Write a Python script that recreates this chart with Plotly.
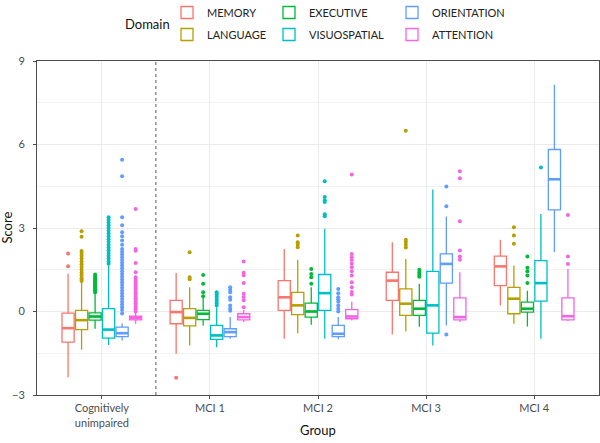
import plotly.graph_objects as go

GROUPS = ["Cognitively<br>unimpaired", "MCI 1", "MCI 2", "MCI 3", "MCI 4"]
DOMAINS = ["MEMORY", "LANGUAGE", "EXECUTIVE", "VISUOSPATIAL", "ORIENTATION", "ATTENTION"]
COLORS = ["#F8766D", "#B79F00", "#00BA38", "#00BFC4", "#619CFF", "#F564E3"]

# box statistics: one row per domain, one value per group
LOWER = [
    [-2.36, -1.52, -0.98, -0.83, 0.22],
    [-1.37, -1.22, -0.78, -0.72, -0.44],
    [-0.62, -0.50, -0.48, -0.55, -0.54],
    [-1.20, -1.28, -0.98, -1.22, -0.98],
    [-1.04, -0.98, -1.00, -0.50, 2.13],
    [-0.44, -0.38, -0.32, -0.38, -0.34],
]
Q1 = [
    [-1.10, -0.44, 0.04, 0.40, 0.93],
    [-0.65, -0.52, -0.11, -0.14, -0.08],
    [-0.31, -0.29, -0.20, -0.14, -0.02],
    [-0.96, -1.00, 0.04, -0.78, 0.37],
    [-0.90, -0.90, -0.90, 1.02, 3.65],
    [-0.30, -0.30, -0.26, -0.30, -0.30],
]
MEDIAN = [
    [-0.60, -0.02, 0.51, 1.11, 1.62],
    [-0.31, -0.23, 0.22, 0.28, 0.46],
    [-0.18, -0.08, 0.00, 0.10, 0.10],
    [-0.65, -0.86, 0.66, 0.22, 1.02],
    [-0.78, -0.74, -0.80, 1.71, 4.75],
    [-0.24, -0.20, -0.18, -0.20, -0.17],
]
Q3 = [
    [-0.06, 0.40, 1.11, 1.41, 1.99],
    [0.04, 0.10, 0.69, 0.81, 0.87],
    [-0.05, 0.04, 0.30, 0.40, 0.34],
    [0.10, -0.50, 1.33, 1.44, 1.83],
    [-0.56, -0.62, -0.50, 2.07, 5.82],
    [-0.17, -0.08, 0.07, 0.49, 0.49],
]
UPPER = [
    [1.36, 1.38, 2.25, 2.49, 2.58],
    [1.05, 0.87, 1.86, 1.89, 1.65],
    [0.62, 0.51, 0.87, 1.00, 0.75],
    [1.65, 0.15, 2.97, 4.38, 3.50],
    [-0.43, -0.20, -0.20, 3.41, 8.15],
    [-0.05, 0.05, 0.35, 1.41, 1.53],
]

# outliers: one list per group
OUT_MEMORY = [[1.63, 2.08], [-2.38], [], [], []]
OUT_LANGUAGE = [
    [1.1, 1.15, 1.2, 1.3, 1.4, 1.5, 1.6, 1.7, 1.8, 1.9, 2.0, 2.1, 2.17, 2.69, 2.88],
    [1.16, 1.23, 2.13],
    [2.31, 2.4, 2.49, 2.73],
    [2.3, 2.4, 2.5, 2.58, 6.49],
    [2.43, 2.73, 3.03],
]
OUT_EXECUTIVE = [
    [0.68, 0.75, 0.8, 0.85, 0.9, 0.95, 1.0, 1.05, 1.1, 1.15, 1.2, 1.25, 1.33],
    [0.55, 0.69, 1.0, 1.31],
    [1.0, 1.23, 1.35, 1.53],
    [1.25, 1.32, 1.4, 1.5],
    [1.02, 1.29, 1.45, 1.57, 1.98],
]
OUT_VISUOSPATIAL = [
    [1.72, 1.8, 1.9, 2.0, 2.1, 2.2, 2.3, 2.4, 2.5, 2.6, 2.7, 2.8, 2.9, 3.0, 3.1, 3.2, 3.3, 3.39],
    [0.22, 0.3, 0.38, 0.46, 0.54, 0.62, 0.69],
    [3.42, 3.49, 3.93, 4.0, 4.11, 4.68],
    [],
    [5.17],
]
OUT_ORIENTATION = [
    [-0.07, 0.05, 0.15, 0.25, 0.35, 0.45, 0.55, 0.65, 0.75, 0.85, 0.95, 1.05, 1.15, 1.25,
     1.35, 1.45, 1.55, 1.65, 1.75, 1.85, 1.95, 2.05, 2.15, 2.25, 2.4, 2.55, 2.7, 2.85,
     3.1, 3.39, 4.86, 5.45],
    [0.03, 0.1, 0.22, 0.42, 0.51, 0.69, 0.78, 0.87],
    [0.0, 0.1, 0.22, 0.35, 0.44, 0.51, 0.66, 0.81],
    [-0.83, 3.78, 4.49],
    [],
]
OUT_ATTENTION = [
    [0.0, 0.06, 0.12, 0.18, 0.24, 0.3, 0.36, 0.42, 0.48, 0.54, 0.6, 0.66, 0.72, 0.78,
     0.84, 0.9, 0.96, 1.02, 1.08, 1.14, 1.23, 1.41, 1.74, 2.18, 2.25, 3.68],
    [0.15, 0.4, 0.52, 0.64, 1.02, 1.3, 1.39, 1.8],
    [0.61, 0.7, 0.87, 1.05, 1.29, 1.45, 1.59, 1.72, 1.85, 1.95, 2.07, 4.92],
    [1.86, 1.98, 2.19, 3.24, 4.79, 5.04],
    [1.71, 1.98, 3.47],
]
OUTLIERS = [OUT_MEMORY, OUT_LANGUAGE, OUT_EXECUTIVE, OUT_VISUOSPATIAL, OUT_ORIENTATION, OUT_ATTENTION]

Y_TICKS = [-3, 0, 3, 6, 9]

W, H = 600, 443
ML, MR, MT, MB = 37, 1, 61, 48
PW = W - ML - MR
PH = H - MT - MB


def px_x(x):
    return (x - ML) / PW


def px_y(y):
    return 1 - (y - MT) / PH


ND = len(DOMAINS)
DODGE = 0.75
SLOT = DODGE / ND
BOXW = SLOT * 0.9

# legend layout (ggplot-style, column-major, 3 columns x 2 rows)
LEG_COL_X = [167, 269, 392]
LEG_ROW_Y = [12.5, 34.5]

fig = go.Figure()
legends = {}
for d, dom in enumerate(DOMAINS):
    off = (d - (ND - 1) / 2) * SLOT
    xs = [g + off for g in range(len(GROUPS))]
    col, row = d // 2, d % 2
    key = "legend" if d == 0 else f"legend{d + 1}"
    legends[key] = dict(
        orientation="h", x=px_x(LEG_COL_X[col]), y=px_y(LEG_ROW_Y[row]),
        xanchor="left", yanchor="middle",
        font=dict(size=11, color="#222222"), itemclick=False,
        bgcolor="rgba(0,0,0,0)", borderwidth=0,
    )
    fig.add_trace(go.Box(
        name=dom, x=xs, q1=Q1[d], median=MEDIAN[d], q3=Q3[d],
        lowerfence=LOWER[d], upperfence=UPPER[d],
        width=BOXW, fillcolor="white",
        line=dict(color=COLORS[d], width=1.3),
        whiskerwidth=0, boxpoints=False, legendgroup=dom, legend=key,
        hoverinfo="skip",
    ))
    # thicker median bar, as in ggplot
    mx, my = [], []
    for x, m in zip(xs, MEDIAN[d]):
        mx += [x - BOXW / 2, x + BOXW / 2, None]
        my += [m, m, None]
    fig.add_trace(go.Scatter(
        x=mx, y=my, mode="lines", line=dict(color=COLORS[d], width=2.6),
        showlegend=False, legendgroup=dom, hoverinfo="skip",
    ))
    ox, oy = [], []
    for g, vals in enumerate(OUTLIERS[d]):
        ox += [g + off] * len(vals)
        oy += vals
    fig.add_trace(go.Scatter(
        x=ox, y=oy, mode="markers", marker=dict(color=COLORS[d], size=4),
        showlegend=False, legendgroup=dom, hoverinfo="skip",
    ))

fig.add_vline(x=0.5, line=dict(color="#555555", width=1, dash="dot"))

axis_line = "#4d4d4d"
fig.update_layout(
    width=W, height=H,
    margin=dict(l=ML, r=MR, t=MT, b=MB, autoexpand=False),
    paper_bgcolor="white", plot_bgcolor="white",
    font=dict(family="Lato, Open Sans, sans-serif", size=11, color="#222222"),
    xaxis=dict(
        range=[-0.6, 4.6], tickmode="array",
        tickvals=list(range(len(GROUPS))), ticktext=GROUPS,
        showgrid=True, gridcolor="#EBEBEB", gridwidth=1,
        showline=True, linecolor=axis_line, linewidth=1, mirror=True,
        ticks="outside", ticklen=3, tickcolor=axis_line,
        tickfont=dict(size=11, color="#4d4d4d"),
        zeroline=False,
    ),
    yaxis=dict(
        range=[-3, 9], tickmode="array", tickvals=Y_TICKS,
        ticktext=[str(v).replace("-", "\u2212") for v in Y_TICKS],
        showgrid=True, gridcolor="#EBEBEB", gridwidth=1,
        minor=dict(showgrid=True, gridcolor="#F2F2F2", gridwidth=0.6,
                   tickvals=[-1.5, 1.5, 4.5, 7.5]),
        showline=True, linecolor=axis_line, linewidth=1, mirror=True,
        ticks="outside", ticklen=3, tickcolor=axis_line, ticklabelstandoff=6,
        tickfont=dict(size=11, color="#4d4d4d"),
        zeroline=False,
    ),
    annotations=[
        dict(text="Domain", xref="paper", yref="paper", x=px_x(172), y=px_y(23.5),
             xanchor="right", yanchor="middle", showarrow=False,
             font=dict(size=13, color="#111111")),
        dict(text="Score", xref="paper", yref="paper", x=px_x(6.5), y=0.5,
             xanchor="center", yanchor="middle", textangle=-90, showarrow=False,
             font=dict(size=13, color="#111111")),
        dict(text="Group", xref="paper", yref="paper", x=0.5, y=px_y(430),
             xanchor="center", yanchor="middle", showarrow=False,
             font=dict(size=13, color="#111111")),
    ],
    showlegend=True,
    **legends,
)

fig.write_html("out.html", config={"displayModeBar": False},
               post_script="document.body.style.margin='0';")
